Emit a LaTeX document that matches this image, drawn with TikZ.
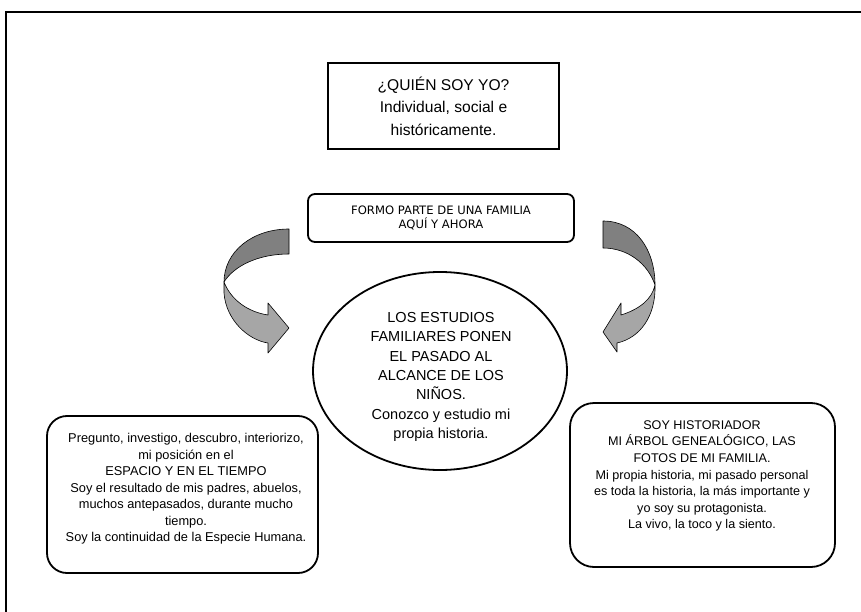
\documentclass[tikz,border=0pt]{standalone}
\usepackage{fontspec}
\setmainfont{Liberation Sans}
\newfontfamily\tahomafont{DejaVu Sans}
\usetikzlibrary{shapes.geometric}
\definecolor{bandDark}{RGB}{128,128,128}
\definecolor{bandLight}{RGB}{166,166,166}
\tikzset{
  framebox/.style={draw=black, line width=1.8pt, rectangle, inner sep=0pt},
  roundbox/.style={draw=black, line width=1.8pt, rectangle, rounded corners=#1, inner sep=0pt},
  txt/.style={align=center, inner sep=0pt},
  bandd/.style={draw=black, line width=0.6pt, fill=bandDark, line join=round},
  bandl/.style={draw=black, line width=0.6pt, fill=bandLight, line join=round}
}
\begin{document}
\begin{tikzpicture}[x=1pt,y=-1pt]
\useasboundingbox (0,0) rectangle (861,612);
% outer frame (cropped)
\draw[line width=1.6pt] (6,612) -- (6,12) -- (861,12);

% top box
\node[framebox, minimum width=231pt, minimum height=86pt, txt,
      font=\fontsize{15.6}{22.5}\selectfont] (who) at (443.5,106)
  {¿QUIÉN SOY YO?\\Individual, social e\\históricamente.};

% family box
\node[roundbox=7pt, minimum width=266pt, minimum height=48pt, txt,
      font=\tahomafont\fontsize{11.6}{14}\selectfont] (fam) at (441,218)
  {FORMO PARTE DE UNA FAMILIA\\AQUÍ Y AHORA};

% central ellipse
\node[draw=black, line width=1.8pt, ellipse, minimum width=254pt, minimum height=198pt, inner sep=0pt] (circ) at (440,371) {};
\node[txt, font=\fontsize{14.5}{19.4}\selectfont] (circtxt) at (441,377)
  {LOS ESTUDIOS\\FAMILIARES PONEN\\EL PASADO AL\\ALCANCE DE LOS\\NIÑOS.\\Conozco y estudio mi\\propia historia.};

% left box
\node[roundbox=20pt, minimum width=271pt, minimum height=157pt] (lbox) at (182.5,494.5) {};
\node[txt, font=\fontsize{12.8}{16.5}\selectfont] (ltxt) at (186,489)
  {Pregunto, investigo, descubro, interiorizo,\\mi posición en el\\ESPACIO Y EN EL TIEMPO\\Soy el resultado de mis padres, abuelos,\\muchos antepasados, durante mucho\\tiempo.\\Soy la continuidad de la Especie Humana.};

% right box
\node[roundbox=24pt, minimum width=265pt, minimum height=164pt] (rbox) at (702.5,485) {};
\node[txt, font=\fontsize{12.6}{16.6}\selectfont] (rtxt) at (702,476)
  {SOY HISTORIADOR\\MI ÁRBOL GENEALÓGICO, LAS\\FOTOS DE MI FAMILIA.\\Mi propia historia, mi pasado personal\\es toda la historia, la más importante y\\yo soy su protagonista.\\La vivo, la toco y la siento.};

% left curved arrow
\draw[bandd] (289,229) .. controls (252,229) and (224,252) .. (224,282)
   .. controls (234,266) and (258,254) .. (289,254) -- cycle;
\draw[bandl] (224,282) -- (224,293) .. controls (226,320) and (248,340) .. (268,343)
   -- (268,353) -- (289,328) -- (268,303) -- (268,315)
   .. controls (248,312) and (231,300) .. (224,282) -- cycle;

% right curved arrow
\draw[bandd] (603,221) .. controls (636,221) and (655,250) .. (655,285)
   .. controls (648,264) and (628,248) .. (603,248) -- cycle;
\draw[bandl] (655,285) .. controls (656,316) and (640,338) .. (617,343)
   -- (617,352) -- (603,332) -- (621,303) -- (621,315)
   .. controls (640,309) and (652,299) .. (655,285) -- cycle;
\end{tikzpicture}
\end{document}
